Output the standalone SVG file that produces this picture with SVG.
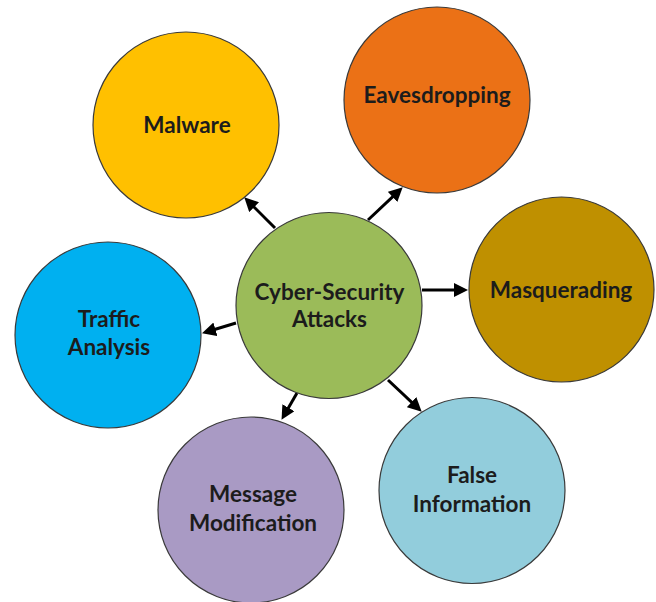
<svg xmlns="http://www.w3.org/2000/svg" width="656" height="602" viewBox="0 0 656 602">
<defs>
<style>
.n{stroke:#3a3a3a;stroke-width:1.2}
.t{font-family:Lato,"Open Sans","Liberation Sans",sans-serif;font-weight:bold;font-size:22.5px;fill:#1c1c1c;text-anchor:middle}
.c{stroke:#000;stroke-width:3;fill:none;marker-end:url(#ah)}
</style>
<marker id="ah" viewBox="0 0 12 12" markerWidth="14" markerHeight="14" markerUnits="userSpaceOnUse" refX="6" refY="6" orient="auto">
<path d="M0,0 L12,6 L0,12 z" fill="#000"/>
</marker>
</defs>
<rect width="656" height="602" fill="#fff"/>
<g id="connectors">
<line class="c" x1="275" y1="228" x2="249.2" y2="202.2"/>
<line class="c" x1="368" y1="220" x2="397.6" y2="192.1"/>
<line class="c" x1="422" y1="290" x2="461" y2="290"/>
<line class="c" x1="236" y1="323" x2="208.7" y2="331.3"/>
<line class="c" x1="297" y1="393" x2="285" y2="413.8"/>
<line class="c" x1="388" y1="380" x2="416.6" y2="406.9"/>
</g>
<g id="malware"><circle class="n" cx="186" cy="125" r="93" fill="#FFC000"/><text class="t" x="187" y="133">Malware</text></g>
<g id="eavesdropping"><circle class="n" cx="437" cy="100" r="93" fill="#EB7116"/><text class="t" x="437" y="103">Eavesdropping</text></g>
<g id="masquerading"><circle class="n" cx="561.5" cy="289.5" r="92.5" fill="#BF9000"/><text class="t" x="561" y="298">Masquerading</text></g>
<g id="traffic"><circle class="n" cx="108" cy="335" r="93" fill="#00B0F0"/><text class="t" x="109" y="327">Traffic</text><text class="t" x="109" y="355">Analysis</text></g>
<g id="message"><circle class="n" cx="251" cy="510" r="93" fill="#A99AC4"/><text class="t" x="253" y="502">Message</text><text class="t" x="253" y="531">Modification</text></g>
<g id="false"><circle class="n" cx="472" cy="490.5" r="93" fill="#92CDDC"/><text class="t" x="472" y="483">False</text><text class="t" x="472" y="512">Information</text></g>
<g id="center"><circle class="n" cx="329" cy="305.5" r="93" fill="#9BBB59"/><text class="t" x="329.5" y="300">Cyber-Security</text><text class="t" x="329.5" y="327">Attacks</text></g>
</svg>
